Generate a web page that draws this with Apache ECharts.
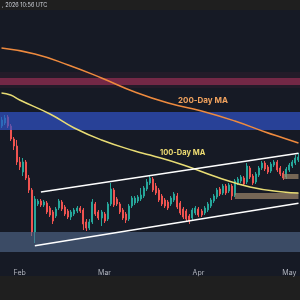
<!DOCTYPE html>
<html><head><meta charset="utf-8">
<script src="https://cdn.jsdelivr.net/npm/echarts@6/dist/echarts.min.js"></script>
<style>html,body{margin:0;padding:0;background:#1f1f1f;}#c{width:300px;height:300px;}</style>
</head><body><div id="c"></div><script>
// Categories: daily candles, 2026-01-26 .. 2026-05-04
const firstDay = Date.UTC(2026, 0, 26);
const dayCount = 99;
const dates = [];
for (let i = 0; i < dayCount; i++) {
  dates.push(new Date(firstDay + i * 86400000).toISOString().slice(0, 10));
}
const monthNames = ['Jan','Feb','Mar','Apr','May','Jun','Jul','Aug','Sep','Oct','Nov','Dec'];

// [open, close, low, high]
const candles = [
[89000,90500,88500,91250],[89750,91000,89250,91750],[91250,89000,88500,91750],[89000,85750,85250,89500],
[85750,84000,83000,86250],[84000,80000,79250,85500],[80000,78750,78000,81250],[77500,80000,76500,81000],
[80000,76000,75500,80500],[76000,73000,72250,76750],[73000,62500,61500,73500],[62500,70750,59750,71500],
[69500,70250,69000,70750],[70250,69250,68750,70750],[69250,70000,68750,70500],[69750,67500,67000,70250],
[68500,66750,66250,69000],[67500,65250,64500,68000],[66500,68250,66000,68750],[68500,70250,68000,70750],
[70000,68250,67750,70500],[68750,67000,66500,69250],[67750,66250,65750,68250],[66250,67500,65500,68000],
[67000,68000,66500,68500],[67750,68500,67250,69000],[68500,67750,67250,69000],[68000,64500,63000,68500],
[65000,63500,62750,65750],[63500,65000,63000,65750],[65000,70000,64500,70750],[69500,67000,66500,70000],
[67500,66000,65500,68000],[66000,67500,64000,68000],[67000,65250,64750,67500],[65750,69500,65250,70000],
[69500,73250,69000,74750],[73000,69250,68750,73500],[70750,69500,69000,71250],[69500,67500,67000,70000],
[68000,66000,65500,68500],[67000,65500,64750,67500],[65750,69000,65250,69500],[69000,71000,68500,71500],
[69750,71000,69250,71500],[70250,71250,69750,71750],[70750,71750,70250,73500],[71500,73500,71000,74000],
[73250,75000,72750,75750],[74750,76000,74250,76750],[75750,73000,72500,76250],[74000,72250,71750,74750],
[73000,70500,70000,73500],[71500,69500,69000,72000],[70500,69000,68500,71000],[70000,68500,68000,70500],
[69500,71000,69000,71500],[70500,72000,70000,72500],[71500,68750,68250,72250],[69750,67250,66750,70250],
[68250,66250,65750,68750],[67750,65750,65250,68250],[66500,65250,64500,67000],[66000,68000,65500,68500],
[67250,68500,66750,69000],[68250,66750,66250,68750],[67750,66750,66250,68250],[67250,68500,66750,69000],
[68000,69500,67500,70000],[69000,70500,68500,71000],[70250,71500,69750,72000],[71250,73000,70750,73500],
[73250,72000,71500,73750],[72250,74000,71750,74500],[74000,72250,71750,74500],[72750,74250,72250,74750],
[74000,71500,70500,74500],[71750,75250,71250,75750],[74750,75750,74250,76250],[75250,76250,74750,76750],
[76000,74500,74000,76500],[75000,79000,74500,79750],[78500,76250,75750,79000],[76500,74750,74250,77000],
[75000,77000,74500,77500],[76750,78500,76250,79000],[78500,79750,78000,80250],[79750,78250,77750,80250],
[78750,77500,77000,79250],[77750,79500,77250,80000],[79250,80000,78750,80500],[80000,78000,77500,80500],
[78500,77000,76500,79000],[77250,76000,75500,77750],[76250,78250,75750,78750],[78000,79250,77500,79750],
[79000,80000,78500,80500],[79750,81000,79250,81750],[80500,81250,80000,82250]
];

// Moving averages read at sample days: [dayIndex, value]
const ma200 = [[0,108500],[11,107000],[22,104250],[33,101000],[44,97500],[55,94750],[66,92750],[77,90250],[87,87500],[93,86000],[98,84750]];
const ma100 = [[0,97250],[3,96750],[6,95500],[16,92000],[24,88500],[33,85500],[44,82750],[49,81750],[60,79250],[71,76250],[82,73750],[93,72500],[98,72250]];

// Zones [low, high]
const resistanceZone = [99250, 101000];
const resistanceHalo = [98500, 102500];
const blueZone = [88000, 92500];
const supportZone = [57500, 62500];
const tanBoxLow = {from: 77, range: [70750, 72250]};
const tanBoxHigh = {from: 93, range: [75750, 77000]};

// Channel lines: [[dayIndex, value], [dayIndex, value]]
const channelUpper = [[13, 72500], [98, 82200]];
const channelLower = [[11, 59075], [98, 69675]];

const chart = echarts.init(document.getElementById('c'), null, {renderer: 'canvas'});
const last = dayCount - 1;
const band = (r, color) => [{yAxis: r[0], itemStyle: {color}}, {yAxis: r[1]}];
const box = (b, color) => [{xAxis: b.from, yAxis: b.range[0], itemStyle: {color}}, {xAxis: last, yAxis: b.range[1]}];

chart.setOption({
  backgroundColor: '#1f1f1f',
  animation: false,
  grid: {left: 0, right: 0, top: 10, bottom: 38},
  xAxis: {
    type: 'category', data: dates, boundaryGap: true,
    axisLine: {show: false}, axisTick: {show: false}, splitLine: {show: false},
    axisLabel: {
      interval: (idx, val) => val.slice(8) === '01',
      formatter: v => monthNames[+v.slice(5, 7) - 1],
      color: '#b2b5be', fontSize: 7, margin: 7, fontFamily: 'Inter, sans-serif'
    }
  },
  yAxis: {type: 'value', min: 55000, max: 118000, show: false, splitLine: {show: false}},
  graphic: {elements: [
    {type: 'rect', z: -10, shape: {x: 0, y: 10, width: 300, height: 266}, style: {fill: '#161a25'}, silent: true},
    {type: 'text', z: 100, x: 2, y: 2, style: {text: ', 2026 10:56 UTC', fill: '#d1d4dc', font: '5.5px Inter, sans-serif'}},
    {type: 'text', z: 100, x: 178, y: 97, style: {text: '200-Day MA', fill: '#f2a35f', font: 'bold 8px Inter, sans-serif'}},
    {type: 'text', z: 100, x: 160, y: 149, style: {text: '100-Day MA', fill: '#eedc72', font: 'bold 7.5px Inter, sans-serif'}}
  ]},
  series: [
    {
      type: 'candlestick', data: candles, z: 2, barWidth: 1.5,
      itemStyle: {color: '#26a69a', color0: '#ef5350', borderColor: '#26a69a', borderColor0: '#ef5350', borderWidth: 1}
    },
    {
      type: 'line', data: ma200, z: 4, smooth: true, showSymbol: false, connectNulls: true,
      lineStyle: {color: '#ee8a3e', width: 1.5},
      markArea: {
        z: 3, silent: true, label: {show: false},
        data: [
          band(resistanceHalo, 'rgba(130,40,75,0.12)'),
          band(resistanceZone, 'rgba(170,50,90,0.6)'),
          band(blueZone, 'rgba(48,82,200,0.7)'),
          band(supportZone, 'rgba(85,108,145,0.6)'),
          box(tanBoxLow, 'rgba(160,135,105,0.7)'),
          box(tanBoxHigh, 'rgba(160,135,105,0.7)')
        ]
      }
    },
    {
      type: 'line', data: ma100, z: 4, smooth: true, showSymbol: false, connectNulls: true,
      lineStyle: {color: '#e8dc74', width: 1.5},
      markLine: {
        z: 5, silent: true, symbol: ['none', 'none'], label: {show: false},
        lineStyle: {color: '#ffffff', width: 1.5, type: 'solid'},
        data: [
          [{coord: channelUpper[0]}, {coord: channelUpper[1]}],
          [{coord: channelLower[0]}, {coord: channelLower[1]}]
        ]
      }
    }
  ]
});
</script></body></html>
